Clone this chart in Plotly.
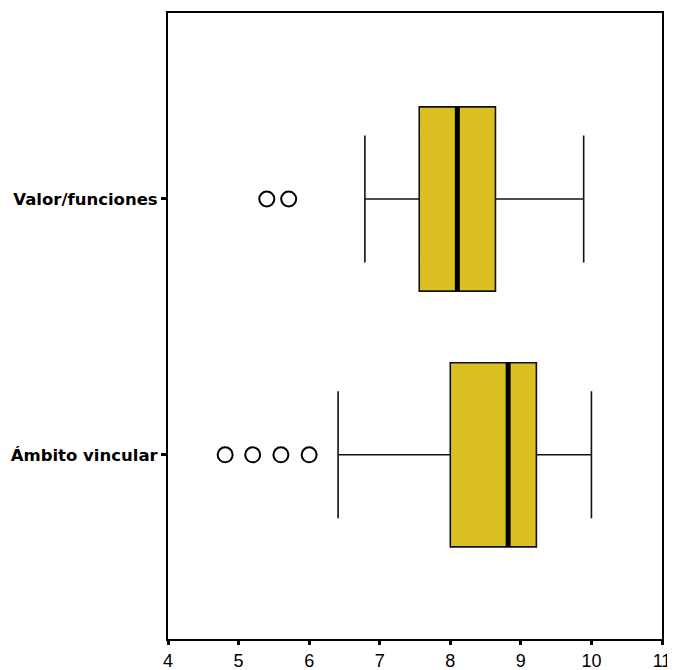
import plotly.graph_objects as go

categories = ["Ámbito vincular", "Valor/funciones"]
q1 = [8.0, 7.56]
median = [8.82, 8.10]
q3 = [9.22, 8.64]
lower = [6.41, 6.79]
upper = [10.0, 9.89]
outliers = [[4.81, 5.2, 5.6, 6.0], [5.40, 5.71]]
xticks = [4, 5, 6, 7, 8, 9, 10, 11]

pos = list(range(len(categories)))
BW = 0.72
fill = "#DBC021"

fig = go.Figure()
fig.add_trace(go.Box(
    orientation="h", y=pos, q1=q1, median=median, q3=q3,
    lowerfence=lower, upperfence=upper, width=BW, whiskerwidth=0.69,
    fillcolor=fill, line=dict(color="#111111", width=1.6),
    boxpoints=False, showlegend=False, hoverinfo="skip"))

mx, my = [], []
for i, m in enumerate(median):
    mx += [m, m, None]
    my += [pos[i] - BW / 2, pos[i] + BW / 2, None]
fig.add_trace(go.Scatter(x=mx, y=my, mode="lines",
                         line=dict(color="black", width=5), showlegend=False))

ox, oy = [], []
for i, vals in enumerate(outliers):
    ox += vals
    oy += [pos[i]] * len(vals)
fig.add_trace(go.Scatter(x=ox, y=oy, mode="markers",
                         marker=dict(symbol="circle-open", size=15,
                                     color="black", line=dict(width=2)),
                         showlegend=False))

fig.update_layout(
    width=667, height=662, margin=dict(l=160, r=13, t=5, b=31),
    plot_bgcolor="white", paper_bgcolor="white",
    font=dict(family="Liberation Sans, Arial", color="black"),
)
fig.update_xaxes(range=[4, 11], tickvals=xticks, ticks="outside", ticklen=4,
                 tickwidth=3, tickcolor="black", showgrid=False, zeroline=False,
                 showline=True, linecolor="black", linewidth=2, mirror=True,
                 tickfont=dict(size=18), automargin=False)
fig.update_yaxes(range=[-0.72, 1.727], tickvals=pos, ticktext=categories,
                 ticks="outside", ticklen=5, tickwidth=3, tickcolor="black",
                 showgrid=False, zeroline=False, showline=True,
                 linecolor="black", linewidth=2, mirror=True, automargin=False,
                 tickfont=dict(size=16.5, family="DejaVu Sans", weight="bold"))
fig.write_html("out.html")
